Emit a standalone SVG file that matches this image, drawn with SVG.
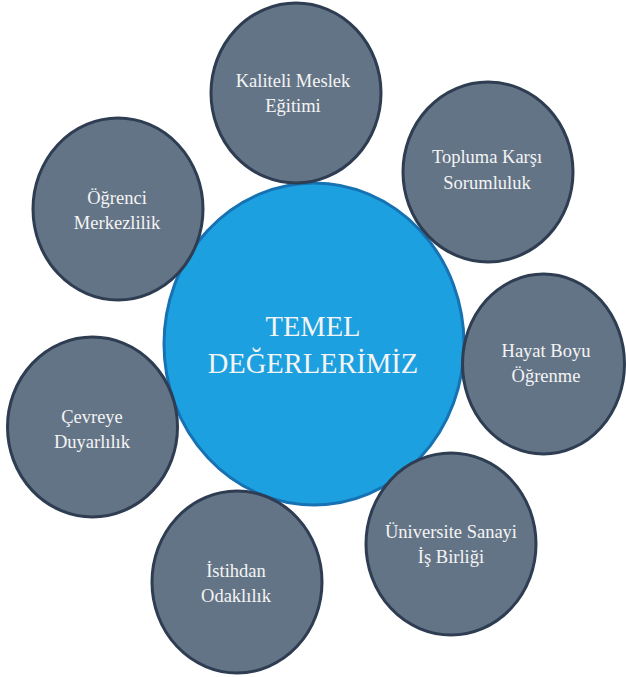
<svg xmlns="http://www.w3.org/2000/svg" width="626" height="677" viewBox="0 0 626 677">
<style>
.bg{fill:#ffffff}
.sat{fill:#647487;stroke:#2E3D52;stroke-width:3}
.core{fill:#1CA0E0;stroke:#1672B3;stroke-width:3}
.t{fill:#F4F4F4;text-anchor:middle}
.s{font-size:18.5px}
.c{font-size:28.5px}
</style>
<rect class="bg" x="0" y="0" width="626" height="677"/>
<g font-family="'Liberation Serif', 'Times New Roman', serif">
<g id="core">
<ellipse class="core" cx="314" cy="344" rx="150" ry="161"/>
<text class="t c" x="313" y="336">TEMEL</text>
<text class="t c" x="313" y="373">DEĞERLERİMİZ</text>
</g>
<g id="n1">
<ellipse class="sat" cx="296" cy="93" rx="85" ry="90"/>
<text class="t s" x="293" y="87">Kaliteli Meslek</text>
<text class="t s" x="293" y="112">Eğitimi</text>
</g>
<g id="n2">
<ellipse class="sat" cx="488" cy="172" rx="85" ry="90"/>
<text class="t s" x="487" y="163">Topluma Karşı</text>
<text class="t s" x="487" y="189">Sorumluluk</text>
</g>
<g id="n3">
<ellipse class="sat" cx="543.5" cy="364" rx="81" ry="90"/>
<text class="t s" x="546" y="357">Hayat Boyu</text>
<text class="t s" x="546" y="382">Öğrenme</text>
</g>
<g id="n4">
<ellipse class="sat" cx="451" cy="544" rx="85" ry="91"/>
<text class="t s" x="451" y="538">Üniversite Sanayi</text>
<text class="t s" x="451" y="563">İş Birliği</text>
</g>
<g id="n5">
<ellipse class="sat" cx="237" cy="582" rx="85" ry="91"/>
<text class="t s" x="236" y="577">İstihdan</text>
<text class="t s" x="236" y="602">Odaklılık</text>
</g>
<g id="n6">
<ellipse class="sat" cx="92.5" cy="427" rx="85" ry="90"/>
<text class="t s" x="92" y="423">Çevreye</text>
<text class="t s" x="92" y="448">Duyarlılık</text>
</g>
<g id="n7">
<ellipse class="sat" cx="118" cy="209" rx="85" ry="91"/>
<text class="t s" x="117" y="204">Öğrenci</text>
<text class="t s" x="117" y="229">Merkezlilik</text>
</g>
</g>
</svg>
